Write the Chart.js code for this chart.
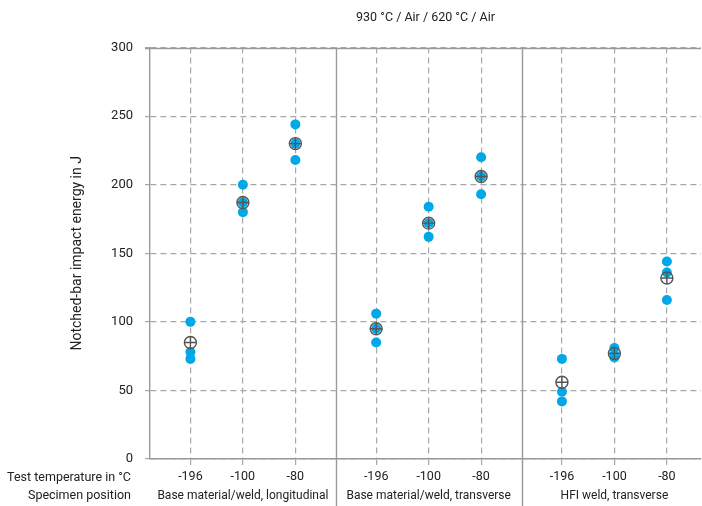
<!DOCTYPE html>
<html>
<head>
<meta charset="utf-8">
<script src="https://cdn.jsdelivr.net/npm/chart.js@4.4.1/dist/chart.umd.min.js"></script>
<style>
  html, body { margin: 0; padding: 0; background: #fff; }
  #wrap { width: 702px; height: 506px; }
</style>
</head>
<body>
<div id="wrap"><canvas id="impactChart" width="702" height="506"></canvas></div>
<script>
// DATA
const temperatures = ['-196', '-100', '-80'];
const positions = ['Base material/weld, longitudinal', 'Base material/weld, transverse', 'HFI weld, transverse'];
const yTicks = [0, 50, 100, 150, 200, 250, 300];

// single specimen values, one row per test temperature
const longitudinalValues = [[100, 78, 73], [200, 187, 180], [244, 230, 218]];
const transverseValues = [[106, 95, 85], [184, 172, 162], [220, 206, 193]];
const hfiWeldValues = [[73, 49, 42], [81, 76, 74], [144, 136, 116]];

// mean values
const longitudinalMeans = [85, 187, 230];
const transverseMeans = [95, 172, 206];
const hfiWeldMeans = [56, 77, 132];

const FONT = "Roboto, 'Liberation Sans', sans-serif";
const BLUE = '#00a8e8';
const GREY = '#a8a8a8';

// x layout: each position group is GROUP units wide, temperatures one unit apart
const GROUP = 3.54;
const PAD = 0.77;
const tickPos = [];
[0, 1, 2].forEach(g => [0, 1, 2].forEach(c => tickPos.push(g * GROUP + PAD + c)));
const groupCenters = [0, 1, 2].map(g => g * GROUP + GROUP / 2);

const groups = [longitudinalValues, transverseValues, hfiWeldValues];
const means = [longitudinalMeans, transverseMeans, hfiWeldMeans];

const singlePoints = [];
groups.forEach((grp, g) => grp.forEach((vals, c) => vals.forEach(v => {
    singlePoints.push({ x: g * GROUP + PAD + c, y: v });
})));
const meanPoints = [];
means.forEach((grp, g) => grp.forEach((v, c) => meanPoints.push({ x: g * GROUP + PAD + c, y: v })));

// separators, top line, row captions
const framePlugin = {
    id: 'frame',
    beforeDatasetsDraw(chart) {
        const { ctx, chartArea, scales } = chart;
        ctx.save();
        ctx.strokeStyle = '#9a9a9a';
        ctx.lineWidth = 1.4;
        ctx.setLineDash([]);
        [GROUP, GROUP * 2].forEach(v => {
            const x = Math.round(scales.x.getPixelForValue(v)) + 0.5;
            ctx.beginPath();
            ctx.moveTo(x, chartArea.top);
            ctx.lineTo(x, chart.height);
            ctx.stroke();
        });
        const yTop = Math.round(scales.y.getPixelForValue(300)) + 0.5;
        ctx.beginPath();
        ctx.moveTo(chartArea.left - 5, yTop);
        ctx.lineTo(chartArea.right, yTop);
        ctx.stroke();
        ctx.restore();
    },
    afterDraw(chart) {
        const { ctx } = chart;
        ctx.save();
        ctx.fillStyle = '#222';
        ctx.font = '12.5px ' + FONT;
        ctx.textAlign = 'right';
        ctx.textBaseline = 'middle';
        ctx.fillText('Test temperature in °C', 131, 478);
        ctx.fillText('Specimen position', 131, 496);
        ctx.restore();
    }
};

new Chart(document.getElementById('impactChart'), {
    type: 'scatter',
    data: {
        datasets: [
            {
                data: singlePoints,
                pointStyle: 'circle',
                pointRadius: 5,
                pointBackgroundColor: BLUE,
                pointBorderWidth: 0,
                order: 3
            },
            {
                data: meanPoints,
                pointStyle: 'circle',
                pointRadius: 6,
                pointBackgroundColor: 'rgba(0,0,0,0)',
                pointBorderColor: '#555',
                pointBorderWidth: 1.4,
                order: 2
            },
            {
                data: meanPoints,
                pointStyle: 'cross',
                pointRadius: 6,
                pointBorderColor: '#555',
                pointBorderWidth: 1.4,
                order: 1
            }
        ]
    },
    options: {
        responsive: false,
        animation: false,
        layout: { autoPadding: false, padding: { left: 0, right: 1, top: 0, bottom: 0 } },
        plugins: {
            legend: { display: false },
            tooltip: { enabled: false },
            title: {
                display: true,
                text: '930 °C / Air / 620 °C / Air',
                fullSize: false,
                color: '#222',
                font: { family: FONT, size: 12.5, weight: 'normal' },
                padding: { top: 10, bottom: 22.6 }
            }
        },
        scales: {
            x: {
                type: 'linear',
                min: 0,
                max: 10.5,
                weight: 0,
                afterBuildTicks: s => { s.ticks = tickPos.map(v => ({ value: v })); },
                afterFit: s => { s.height = 28; },
                ticks: {
                    autoSkip: false,
                    maxRotation: 0,
                    padding: 4,
                    color: '#222',
                    font: { family: FONT, size: 12.5 },
                    callback: (v, i) => temperatures[i % 3]
                },
                grid: {
                    color: GREY,
                    lineWidth: 1.2,
                    tickLength: 6,
                    tickBorderDash: [6, 4]
                },
                border: { display: true, color: '#9a9a9a', width: 1.4, dash: [6, 4] }
            },
            x2: {
                type: 'linear',
                position: 'bottom',
                min: 0,
                max: 10.5,
                weight: 1,
                afterBuildTicks: s => { s.ticks = groupCenters.map(v => ({ value: v })); },
                afterFit: s => { s.height = 19; },
                ticks: {
                    autoSkip: false,
                    maxRotation: 0,
                    padding: 2,
                    color: '#222',
                    font: { family: FONT, size: 12 },
                    callback: (v, i) => positions[i]
                },
                grid: { display: false, drawTicks: false },
                border: { display: false }
            },
            y: {
                min: 0,
                max: 300,
                afterBuildTicks: s => { s.ticks = yTicks.map(v => ({ value: v })); },
                afterFit: s => { s.width = 150; },
                ticks: {
                    padding: 12,
                    color: '#222',
                    font: { family: FONT, size: 13 }
                },
                grid: {
                    color: GREY,
                    lineWidth: 1.2,
                    tickLength: 5
                },
                border: { display: true, color: '#9a9a9a', width: 1.4, dash: [6, 4] },
                title: {
                    display: true,
                    text: 'Notched-bar impact energy in J',
                    color: '#222',
                    font: { family: FONT, size: 14 },
                    padding: { top: 69, bottom: 0 }
                }
            }
        }
    },
    plugins: [framePlugin]
});
</script>
</body>
</html>
